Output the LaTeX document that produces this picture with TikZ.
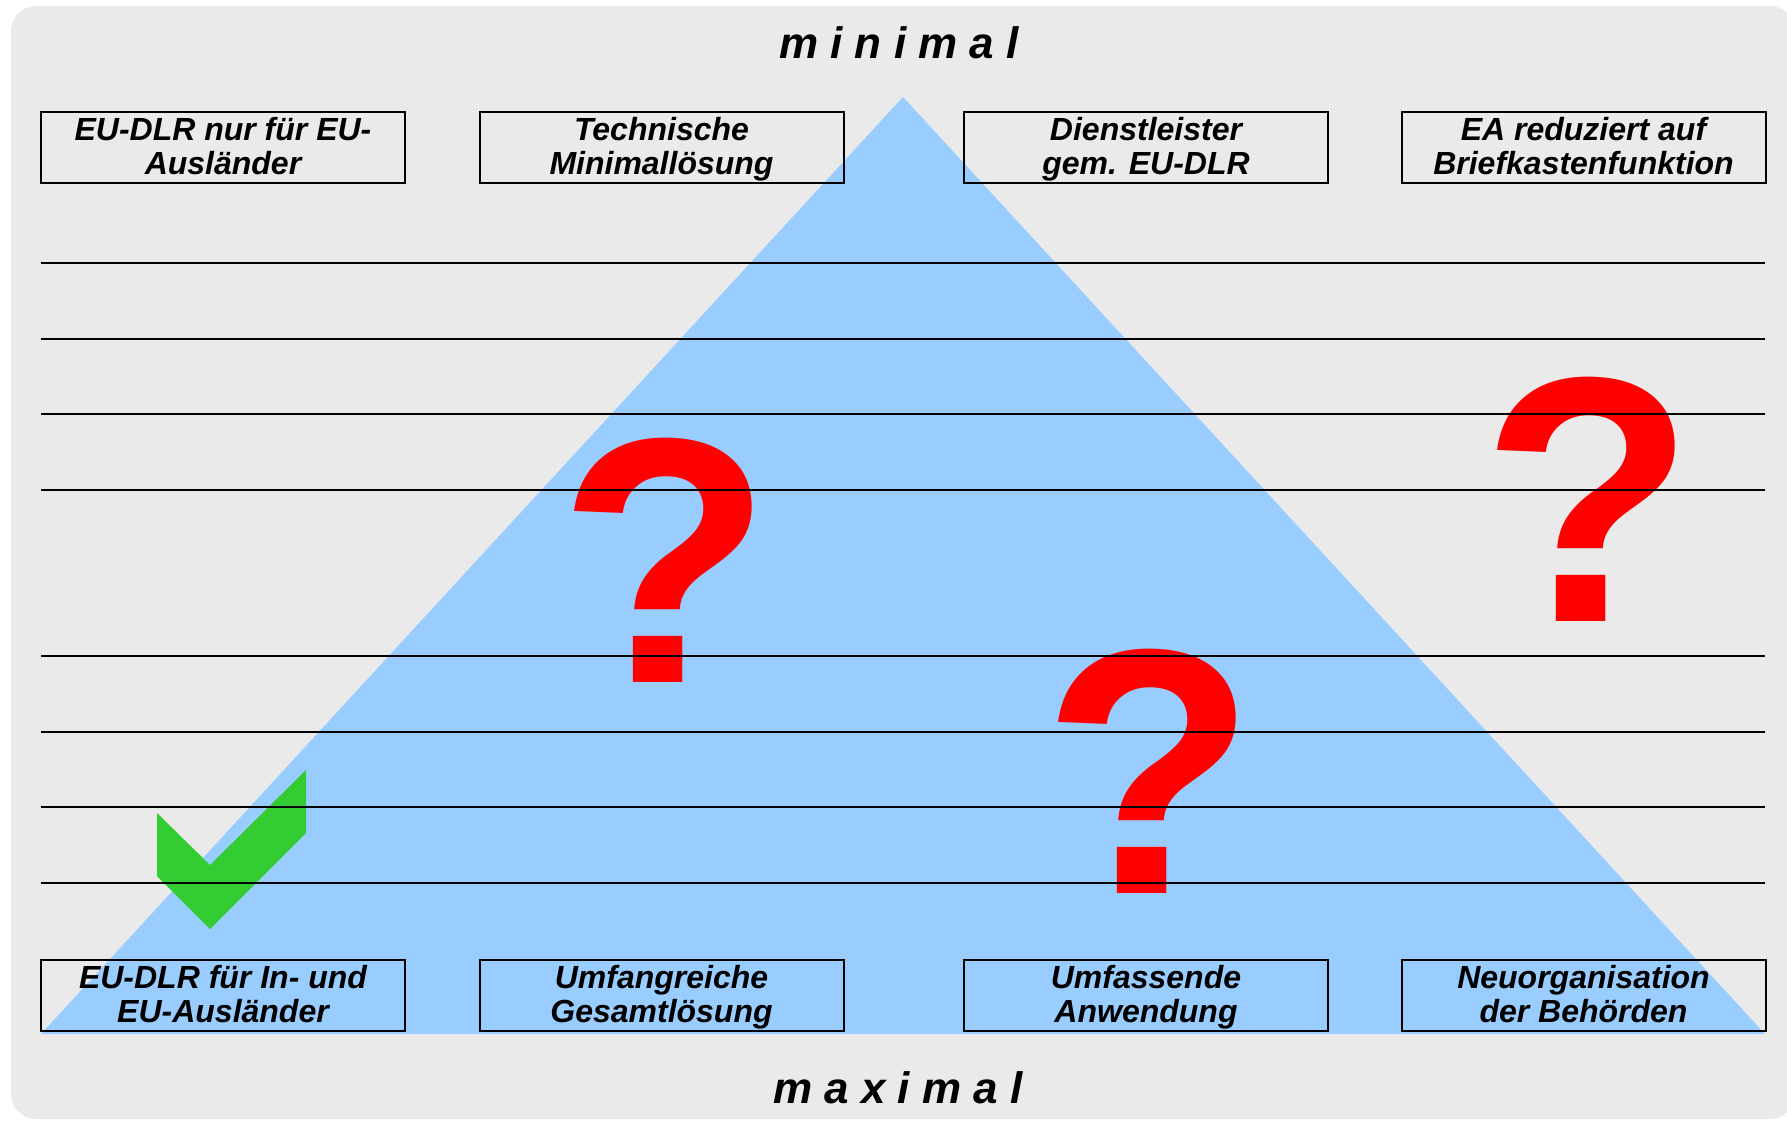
\documentclass[tikz,border=0pt]{standalone}
\usepackage{fontspec}
\setmainfont{Liberation Sans}
\definecolor{bgc}{HTML}{EAEAEA}
\definecolor{tric}{HTML}{99CCFF}
\definecolor{qred}{HTML}{FF0000}
\definecolor{okgreen}{HTML}{33CC33}
\tikzset{
  optbox/.style={draw=black, line width=1pt, minimum width=182pt, minimum height=35.5pt,
    inner sep=0pt, text depth=2pt, align=center, font=\fontsize{16pt}{17pt}\selectfont\bfseries\itshape},
  qmark/.style={anchor=base, inner sep=0pt, text depth=0pt, text height=128pt, text=qred, font=\fontsize{175pt}{175pt}\selectfont\bfseries},
  axislabel/.style={anchor=base, inner sep=0pt, font=\fontsize{22pt}{22pt}\selectfont\bfseries\itshape},
  rule/.style={draw=black, line width=1.35pt}
}
\begin{document}
\begin{tikzpicture}[x=0.5pt,y=-0.5pt]
\useasboundingbox (0,0) rectangle (1787,1120);
\begin{scope}
\clip (0,0) rectangle (1787,1120);
\fill[bgc, rounded corners=12.5pt] (11,6) rectangle (1795,1119);
\end{scope}
% pyramid
\fill[tric] (903,97) -- (1765,1034) -- (41,1034) -- cycle;
% check mark
\fill[okgreen] (157,813) -- (210,865) -- (306,770) -- (306,833) -- (210,929) -- (157,876) -- cycle;
% question marks
\node[qmark] (q1) at (665,682) {?};
\node[qmark] (q2) at (1588,621) {?};
\node[qmark] (q3) at (1149,893) {?};
% horizontal rules
\foreach \yy in {263,339,414,490,656,732,807,883}
  \draw[rule] (41,\yy) -- (1765,\yy);
% option boxes
\node[optbox] (t1) at (223,147.5) {EU-DLR nur für EU-\\Ausländer};
\node[optbox] (t2) at (661.5,147.5) {Technische\\Minimallösung};
\node[optbox] (t3) at (1146,147.5) {Dienstleister\\gem. EU-DLR};
\node[optbox] (t4) at (1583.5,147.5) {EA reduziert auf\\Briefkastenfunktion};
\node[optbox] (b1) at (223,995.5) {EU-DLR für In- und\\EU-Ausländer};
\node[optbox] (b2) at (661.5,995.5) {Umfangreiche\\Gesamtlösung};
\node[optbox] (b3) at (1146,995.5) {Umfassende\\Anwendung};
\node[optbox] (b4) at (1583.5,995.5) {Neuorganisation\\der Behörden};
% axis labels
\node[axislabel] (minl) at (899,58) {m i n i m a l};
\node[axislabel] (maxl) at (898,1103) {m a x i m a l};
\end{tikzpicture}
\end{document}
